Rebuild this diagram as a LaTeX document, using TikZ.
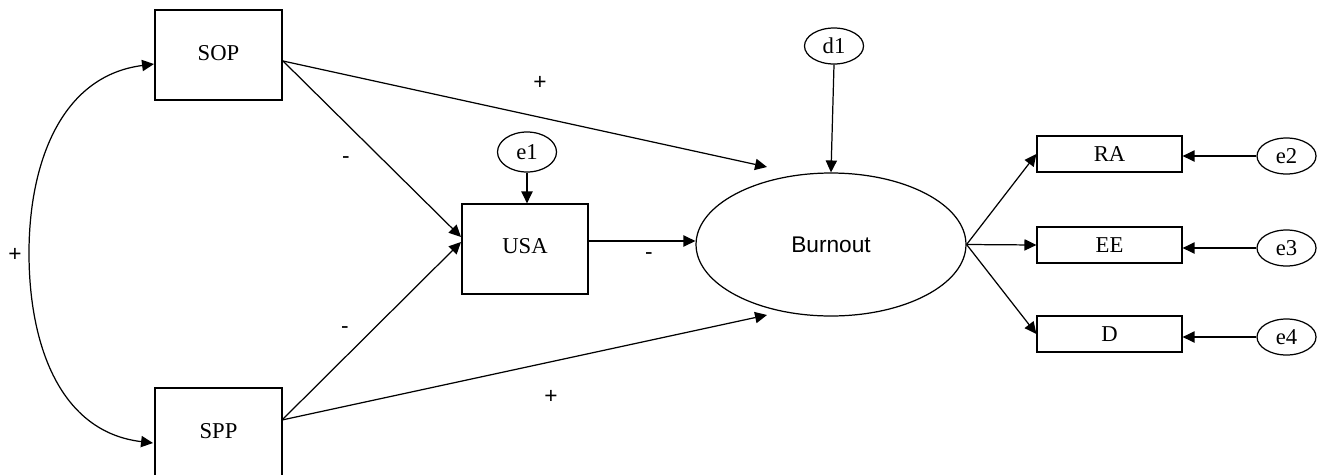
\documentclass[tikz,border=0pt]{standalone}
\usepackage{fontspec}
\setmainfont{Liberation Serif}
\newfontfamily\arialfont{Liberation Sans}
\usetikzlibrary{arrows.meta,shapes.geometric}
\begin{document}
\begin{tikzpicture}[x=0.02cm,y=-0.02cm,
  every node/.style={font=\fontsize{12.9}{15}\selectfont},
  obs/.style={draw,line width=0.7pt,rectangle,inner sep=0pt},
  bigbox/.style={obs,minimum width=2.54cm,minimum height=1.8cm},
  ind/.style={obs,minimum width=2.9cm,minimum height=0.72cm},
  err/.style={draw,line width=0.7pt,ellipse,inner sep=0pt,minimum width=1.18cm,minimum height=0.74cm},
  lat/.style={draw,line width=0.7pt,ellipse,inner sep=0pt,minimum width=5.4cm,minimum height=2.86cm,font=\arialfont\fontsize{12.9}{15}\selectfont},
  sign/.style={font=\arialfont\fontsize{12.9}{15}\selectfont,inner sep=0pt},
  arr/.style={line width=0.7pt,-{Triangle[length=6.8pt,width=6.4pt]}},
  darr/.style={line width=0.7pt,{Triangle[length=6.8pt,width=6.4pt]}-{Triangle[length=6.8pt,width=6.4pt]}}]
\useasboundingbox (0,0) rectangle (1318,474);
\begin{scope}
\clip (0,0) rectangle (1318,474);
% nodes
\node[bigbox] (SOP) at (218.5,55) {\raisebox{2pt}{SOP}};
\node[bigbox] (SPP) at (218.5,433) {\raisebox{2pt}{SPP}};
\node[obs,minimum width=2.52cm,minimum height=1.8cm] (USA) at (525,249) {\raisebox{3pt}{USA}};
\node[lat] (Burnout) at (831,244.5) {Burnout};
\node[err,minimum height=0.72cm] (d1) at (834,46) {d1};
\node[err,minimum height=0.8cm] (e1) at (527,152) {e1};
\node[ind] (RA) at (1109.5,154) {RA};
\node[ind] (EE) at (1109.5,245) {EE};
\node[ind] (D) at (1109.5,334) {D};
\node[err,minimum height=0.72cm] (e2) at (1286.5,156) {e2};
\node[err,minimum height=0.72cm] (e3) at (1286.5,248) {e3};
\node[err,minimum height=0.72cm] (e4) at (1286.5,337) {e4};
% helper coordinates
\coordinate (sopout) at (283,61);
\coordinate (sppout) at (282,420);
\coordinate (usain1) at (461,237);
\coordinate (usain2) at (461,242);
\coordinate (bin1) at (767,167);
\coordinate (bin2) at (767,315);
\coordinate (cvtop) at (154,64);
\coordinate (cvbot) at (153,443);
% connectors
\draw[arr] (sopout) -- (bin1);
\draw[arr] (sopout) -- (usain1);
\draw[arr] (sppout) -- (usain2);
\draw[arr] (sppout) -- (bin2);
\draw[arr] (USA.east |- 0,241) -- (Burnout.west |- 0,241);
\draw[arr] (d1.south) -- (Burnout.north);
\draw[arr] (e1.south) -- (e1.south |- USA.north);
\draw[arr] (Burnout.east) -- (RA.west);
\draw[arr] (Burnout.east) -- (EE.west);
\draw[arr] (Burnout.east) -- (D.west);
\draw[arr] (e2.west) -- (e2.west -| RA.east);
\draw[arr] (e3.west) -- (e3.west -| EE.east);
\draw[arr] (e4.west) -- (e4.west -| D.east);
\draw[darr] (cvtop) .. controls (60,76) and (29,165) .. (29,253) .. controls (29,345) and (60,432) .. (cvbot);
% signs
\node[sign] (s1) at (540,83) {+};
\node[sign] (s2) at (346,160) {-};
\node[sign] (s3) at (15,255) {+};
\node[sign] (s4) at (649,256) {-};
\node[sign] (s5) at (345,330) {-};
\node[sign] (s6) at (551,397) {+};
\end{scope}
\end{tikzpicture}
\end{document}
